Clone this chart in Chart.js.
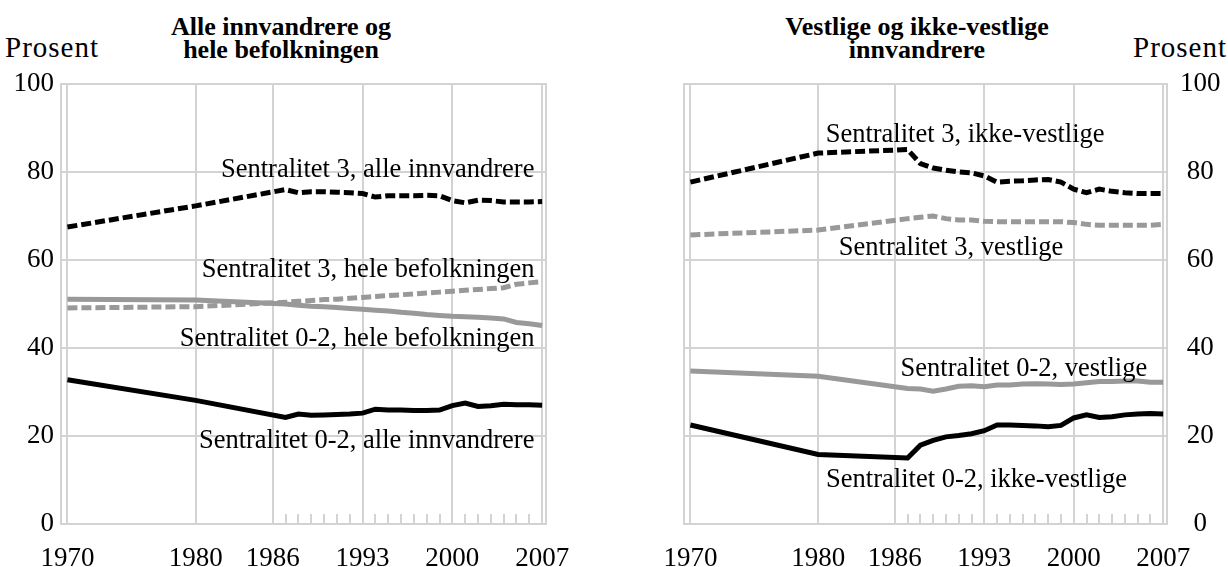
<!DOCTYPE html>
<html>
<head>
<meta charset="utf-8">
<script src="https://cdn.jsdelivr.net/npm/chart.js@4.4.0/dist/chart.umd.min.js"></script>
<style>
  body { margin: 0; background: #fff; }
  #wrap { position: relative; width: 1228px; height: 567px; overflow: hidden;
          font-family: "Liberation Serif", "Times New Roman", serif; color: #000; }
  canvas { position: absolute; top: 0; }
  .title { position: absolute; font-weight: bold; font-size: 26px; line-height: 23px;
           text-align: center; white-space: nowrap; width: 340px; }
  .unit { position: absolute; font-size: 29px; line-height: 30px; letter-spacing: 1px; white-space: nowrap; }
</style>
</head>
<body>
<div id="wrap">
  <div class="title" style="left:111px; top:15px">Alle innvandrere og<br>hele befolkningen</div>
  <div class="title" style="left:747px; top:15px">Vestlige og ikke-vestlige<br>innvandrere</div>
  <div class="unit" style="left:5px; top:32px">Prosent</div>
  <div class="unit" style="right:1px; top:32px">Prosent</div>
  <canvas id="left" width="614" height="567" style="left:0"></canvas>
  <canvas id="right" width="614" height="567" style="left:614px"></canvas>
</div>
<script>
// years with data: 1970, 1980 and every year 1987-2007
const years = [1970, 1980, 1987, 1988, 1989, 1990, 1991, 1992, 1993, 1994, 1995, 1996,
               1997, 1998, 1999, 2000, 2001, 2002, 2003, 2004, 2005, 2006, 2007];
const xTickLabels = [1970, 1980, 1986, 1993, 2000, 2007];
const minorYears = [1987, 1988, 1989, 1990, 1991, 1992, 1993, 1994, 1995, 1996,
                    1997, 1998, 1999, 2000, 2001, 2002, 2003, 2004, 2005, 2006];
const yTicks = [0, 20, 40, 60, 80, 100];

// left panel: alle innvandrere og hele befolkningen
const s3Alle = [67.5, 72.3, 76.0, 75.3, 75.5, 75.5, 75.4, 75.3, 75.1, 74.3, 74.6, 74.6,
                74.6, 74.7, 74.6, 73.5, 73.0, 73.6, 73.5, 73.2, 73.2, 73.2, 73.3];
const s3Hele = [49.1, 49.4, 50.4, 50.6, 50.8, 51.0, 51.1, 51.3, 51.5, 51.7, 51.9, 52.1,
                52.3, 52.5, 52.7, 52.9, 53.1, 53.3, 53.5, 53.7, 54.5, 54.8, 55.1];
const s02Hele = [51.1, 50.9, 50.0, 49.7, 49.5, 49.4, 49.2, 49.0, 48.8, 48.6, 48.4, 48.1,
                 47.9, 47.6, 47.4, 47.2, 47.1, 47.0, 46.8, 46.6, 45.8, 45.5, 45.1];
const s02Alle = [32.8, 28.1, 24.2, 25.0, 24.7, 24.8, 24.9, 25.0, 25.2, 26.1, 25.9, 25.9,
                 25.8, 25.8, 25.9, 26.9, 27.5, 26.7, 26.9, 27.2, 27.1, 27.1, 27.0];

// right panel: vestlige og ikke-vestlige innvandrere
const s3Ikke = [77.7, 84.3, 85.1, 81.9, 80.9, 80.4, 80.0, 79.8, 79.1, 77.7, 77.9, 78.0,
                78.2, 78.3, 77.7, 76.1, 75.3, 76.1, 75.6, 75.3, 75.1, 75.1, 75.1];
const s3Vest = [65.7, 66.8, 69.4, 69.7, 70.0, 69.4, 69.1, 69.1, 68.8, 68.7, 68.7, 68.7,
                68.7, 68.7, 68.7, 68.5, 68.1, 67.9, 67.9, 67.9, 67.9, 67.9, 68.1];
const s02Vest = [34.8, 33.6, 30.8, 30.7, 30.2, 30.7, 31.3, 31.4, 31.2, 31.6, 31.6, 31.8,
                 31.9, 31.8, 31.7, 31.8, 32.1, 32.4, 32.4, 32.5, 32.5, 32.2, 32.2];
const s02Ikke = [22.5, 15.8, 15.0, 17.9, 19.0, 19.8, 20.1, 20.5, 21.2, 22.5, 22.5, 22.4,
                 22.3, 22.1, 22.4, 24.1, 24.8, 24.2, 24.4, 24.8, 25.0, 25.1, 25.0];

const FONT = "'Liberation Serif', 'Times New Roman', serif";
const GRID = '#d3d3d3';
const GREY = '#999999';

// text next to the lines, anchored in data units
const leftLabels = [
  { text: 'Sentralitet 3, alle innvandrere', x: 2006.4, y: 78.9, align: 'right' },
  { text: 'Sentralitet 3, hele befolkningen', x: 2006.4, y: 56.1, align: 'right' },
  { text: 'Sentralitet 0-2, hele befolkningen', x: 2006.4, y: 40.5, align: 'right' },
  { text: 'Sentralitet 0-2, alle innvandrere', x: 2006.4, y: 17.3, align: 'right' }
];
const rightLabels = [
  { text: 'Sentralitet 3, ikke-vestlige', x: 1991.5, y: 86.8, align: 'center' },
  { text: 'Sentralitet 3, vestlige', x: 1990.4, y: 61.1, align: 'center' },
  { text: 'Sentralitet 0-2, vestlige', x: 1996.1, y: 33.6, align: 'center' },
  { text: 'Sentralitet 0-2, ikke-vestlige', x: 1992.4, y: 8.4, align: 'center' }
];

const pts = arr => arr.map((v, i) => ({ x: years[i], y: v }));

function line(values, color, dashed) {
  return {
    data: pts(values),
    borderColor: color,
    borderWidth: 5,
    borderDash: dashed ? [10, 4] : [],
    pointRadius: 0,
    tension: 0,
    fill: false
  };
}

// box round the plot, small year ticks, and the line labels
const panelExtras = {
  id: 'panelExtras',
  beforeDatasetsDraw(chart) {
    const { ctx, chartArea: a, scales: { x } } = chart;
    ctx.save();
    ctx.strokeStyle = GRID;
    ctx.lineWidth = 2;
    ctx.strokeRect(a.left, a.top, a.right - a.left, a.bottom - a.top);
    ctx.beginPath();
    minorYears.forEach(yr => {
      const px = Math.round(x.getPixelForValue(yr));
      ctx.moveTo(px, a.bottom);
      ctx.lineTo(px, a.bottom - 10);
    });
    ctx.stroke();
    ctx.restore();
  },
  afterDatasetsDraw(chart) {
    const { ctx, scales: { x, y } } = chart;
    const labels = chart.canvas.id === 'left' ? leftLabels : rightLabels;
    ctx.save();
    ctx.fillStyle = '#000';
    ctx.font = '26.5px ' + FONT;
    ctx.textBaseline = 'alphabetic';
    labels.forEach(l => {
      ctx.textAlign = l.align;
      ctx.fillText(l.text, x.getPixelForValue(l.x), y.getPixelForValue(l.y));
    });
    ctx.restore();
  }
};

function makeChart(id, side, datasets) {
  return new Chart(document.getElementById(id), {
    type: 'line',
    data: { datasets },
    plugins: [panelExtras],
    options: {
      responsive: false,
      animation: false,
      layout: {
        padding: side === 'left'
          ? { top: 84, right: 68, left: 0, bottom: 0 }
          : { top: 84, right: 0, left: 70, bottom: 0 }
      },
      plugins: { legend: { display: false }, tooltip: { enabled: false } },
      scales: {
        x: {
          type: 'linear',
          min: 1969.5,
          max: 2007.3,
          afterBuildTicks: s => { s.ticks = xTickLabels.map(v => ({ value: v })); },
          afterFit: s => { s.height = 43; },
          grid: { color: GRID, lineWidth: 2, drawTicks: false },
          border: { display: false },
          ticks: {
            padding: 19, color: '#000', maxRotation: 0, autoSkip: false,
            font: { family: FONT, size: 27 },
            callback: v => String(v)
          }
        },
        y: {
          position: side,
          min: 0,
          max: 100,
          afterBuildTicks: s => { s.ticks = yTicks.map(v => ({ value: v })); },
          afterFit: s => { s.width = 61; },
          grid: { color: GRID, lineWidth: 2, drawTicks: false },
          border: { display: false },
          ticks: {
            padding: side === 'left' ? 7 : 13, color: '#000',
            crossAlign: side === 'left' ? 'near' : 'center',
            font: { family: FONT, size: 27 },
            callback: v => String(v)
          }
        }
      }
    }
  });
}

makeChart('left', 'left', [
  line(s3Hele, GREY, true),
  line(s02Hele, GREY, false),
  line(s3Alle, '#000', true),
  line(s02Alle, '#000', false)
]);

makeChart('right', 'right', [
  line(s3Vest, GREY, true),
  line(s02Vest, GREY, false),
  line(s3Ikke, '#000', true),
  line(s02Ikke, '#000', false)
]);
</script>
</body>
</html>
